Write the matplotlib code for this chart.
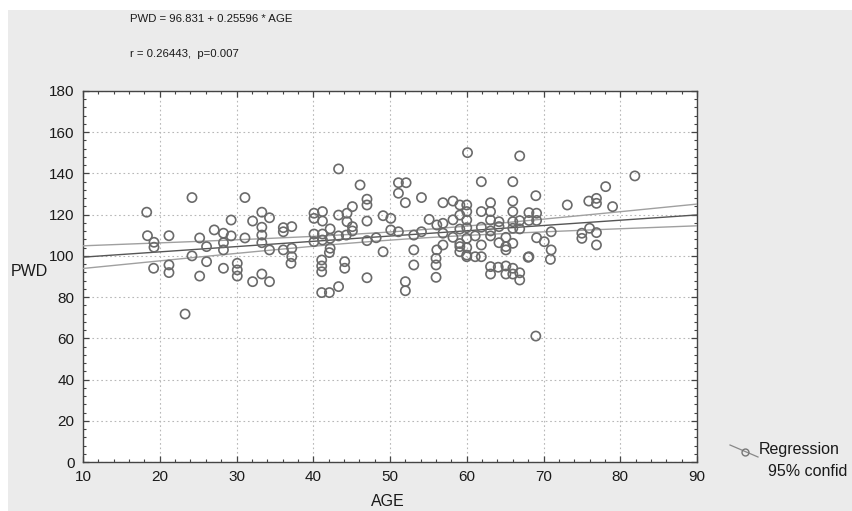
import numpy as np
import matplotlib
matplotlib.use("Agg")
import matplotlib.pyplot as plt
from matplotlib.ticker import MultipleLocator
from matplotlib.patches import Rectangle
from matplotlib.lines import Line2D

plt.rcParams['font.family'] = ['Liberation Sans', 'DejaVu Sans']

# ---- data ----
age = [
    18.3, 24.2, 31.1, 18.4, 19.25, 19.25, 21.2, 24.2, 25.2, 26.1, 27.1, 28.3, 28.3, 28.3,
    29.3, 29.3, 31.1, 32.1, 33.3, 34.3, 33.3, 33.3, 33.3, 34.3, 36.1, 36.1, 37.2, 36.1,
    37.2, 37.2, 19.2, 21.2, 21.2, 25.2, 26.1, 28.3, 30.1, 30.1, 30.1, 32.1, 33.3, 34.3,
    23.3, 37.1,
    43.3, 46.1, 51.1, 52.1, 51.1, 52.0, 54.1, 47.0, 47.0, 45.1, 44.4, 43.3, 40.1, 40.1,
    41.2, 41.2, 42.2, 44.4, 45.1, 45.1, 47.0, 49.1, 50.1, 50.1, 40.1, 40.1, 41.2, 41.2,
    42.2, 42.2, 43.3, 44.3, 47.0, 48.2, 49.1, 51.1, 53.1, 54.1, 55.1, 56.1, 56.9, 56.9,
    56.9, 58.2, 59.1, 59.1, 60.1, 53.1, 56.1, 56.9, 41.1, 41.1, 41.1, 41.1, 42.1, 43.3,
    44.1, 44.1, 47.0, 52.0, 52.0, 53.1, 56.0, 56.0, 56.0, 59.1, 60.0, 42.1,
    58.2, 59.1, 58.2, 59.1, 59.1,
    66.9, 61.9, 66.0, 81.9, 78.1, 69.0, 76.9, 76.9, 75.9, 73.1, 79.0, 63.1, 63.1, 66.0,
    66.0, 61.9, 60.0, 60.0, 60.0, 68.1, 69.1, 68.1, 69.1, 63.1, 64.2, 64.2, 66.0, 66.0,
    66.9, 66.9, 61.9, 61.1, 63.1, 63.1, 64.2, 65.1, 65.1, 66.0, 71.0, 69.1, 70.1, 71.0,
    76.0, 75.0, 75.0, 76.9, 76.9, 60.0, 60.0, 61.9, 68.1, 61.1, 61.9, 60.0, 63.1, 63.1,
    64.1, 65.1, 65.1, 66.0, 66.0, 66.9, 66.9, 68.0, 70.9, 69.0, 65.1, 60.0,
]
pwd = [
    121.2, 128.3, 128.3, 109.8, 106.6, 104.2, 109.8, 100.0, 108.7, 104.5, 112.6, 111.0, 106.4, 102.9,
    117.4, 109.7, 108.7, 116.9, 121.2, 118.5, 113.9, 110.1, 106.4, 102.9, 113.7, 111.7, 114.2, 102.9,
    103.7, 99.6, 94.0, 95.6, 91.9, 90.2, 97.2, 94.0, 96.4, 93.2, 90.2, 87.5, 91.2, 87.5,
    71.8, 96.4,
    142.2, 134.4, 135.5, 135.5, 130.4, 125.8, 128.3, 127.5, 124.7, 123.9, 120.7, 119.8, 120.7, 118.2,
    121.5, 116.9, 113.1, 116.6, 114.2, 112.1, 116.9, 119.5, 118.2, 112.6, 110.6, 106.9, 110.6, 107.7,
    108.5, 103.7, 109.7, 110.1, 107.4, 108.8, 102.0, 111.7, 110.1, 111.7, 117.7, 115.0, 115.8, 111.0,
    125.8, 126.6, 124.7, 119.8, 150.1, 102.9, 102.9, 105.3, 98.0, 95.1, 92.3, 82.2, 82.2, 85.1,
    97.2, 94.0, 89.4, 87.5, 83.1, 95.6, 98.8, 95.6, 89.6, 102.0, 100.4, 101.6,
    117.5, 113.0, 109.0, 106.0, 104.5,
    148.5, 136.0, 136.0, 138.8, 133.6, 129.2, 127.9, 125.5, 126.6, 124.7, 123.9, 125.8, 121.5, 126.6,
    121.5, 121.5, 124.7, 121.5, 117.4, 121.0, 120.7, 117.2, 117.2, 117.4, 116.6, 114.2, 116.6, 113.4,
    117.1, 113.1, 113.9, 109.7, 112.1, 109.7, 106.4, 109.0, 104.5, 106.1, 111.7, 108.8, 106.9, 102.9,
    113.4, 111.0, 108.5, 111.3, 105.3, 113.7, 108.5, 105.3, 99.6, 99.6, 99.6, 99.6, 94.8, 91.2,
    94.5, 95.1, 91.2, 94.0, 91.2, 91.8, 88.3, 99.3, 98.3, 61.1, 102.9, 104.0,
]
intercept = 96.831
slope = 0.25596
r_value = 0.26443
p_value = 0.007
x_ticks = [10, 20, 30, 40, 50, 60, 70, 80, 90]
y_ticks = [0, 20, 40, 60, 80, 100, 120, 140, 160, 180]

x = np.array(age)
y = np.array(pwd)

W, H = 852, 511
fig = plt.figure(figsize=(W / 100, H / 100), dpi=100, facecolor='white')
fig.patches.append(Rectangle((8 / W, 0), 1 - 8 / W, (H - 10) / H,
                             transform=fig.transFigure, facecolor='#ebebeb',
                             edgecolor='none', zorder=-10))

ax = fig.add_axes([83 / W, (H - 462) / H, 614 / W, 371 / H])
ax.set_facecolor('white')

# regression line and 95% confidence band
xs = np.linspace(10, 90, 200)
yhat = intercept + slope * xs
n = len(x)
resid = y - (intercept + slope * x)
s = np.sqrt(np.sum(resid ** 2) / (n - 2))
xbar = x.mean()
sxx = np.sum((x - xbar) ** 2)
half = 1.97 * s * np.sqrt(1 / n + (xs - xbar) ** 2 / sxx)
ax.plot(xs, yhat, color='#555555', lw=1.0, zorder=3)
ax.plot(xs, yhat + half, color='#a0a0a0', lw=1.0, zorder=3)
ax.plot(xs, yhat - half, color='#a0a0a0', lw=1.0, zorder=3)

ax.scatter(x, y, s=44, facecolors='none', edgecolors='#6a6a6a', linewidths=1.2, zorder=4)

ax.set_xlim(10, 90)
ax.set_ylim(0, 180)
ax.set_xticks(x_ticks)
ax.set_yticks(y_ticks)
ax.xaxis.set_minor_locator(MultipleLocator(2))
ax.yaxis.set_minor_locator(MultipleLocator(4))
ax.grid(True, which='major', linestyle=(0, (1.5, 2.5)), color='#b8b8b8', lw=0.8)
ax.set_axisbelow(True)
ax.tick_params(which='both', direction='in', top=True, right=True, color='#444444')
ax.tick_params(which='major', length=4, width=0.9, labelsize=11, pad=6, labelcolor='#1a1a1a')
ax.tick_params(which='minor', length=2.5, width=0.8)
for sp in ax.spines.values():
    sp.set_color('#444444')
    sp.set_linewidth(1.0)

fig.text(388 / W, 1 - 501 / H, 'AGE', ha='center', va='center', fontsize=11.5, color='#1a1a1a')
fig.text(11 / W, 1 - 272 / H, 'PWD', ha='left', va='center', fontsize=11.5, color='#1a1a1a')

fig.text(130 / W, 1 - 19 / H,
         f'PWD = {intercept:.3f} + {slope:.5f} * AGE',
         ha='left', va='center', fontsize=8.2, color='#1a1a1a')
fig.text(130 / W, 1 - 54 / H,
         f'r = {r_value:.5f},  p={p_value:.3f}',
         ha='left', va='center', fontsize=8.2, color='#1a1a1a')

# legend drawn in figure space
fig.lines.append(Line2D([730 / W, 758 / W], [1 - 445 / H, 1 - 457 / H],
                        transform=fig.transFigure, color='#888888', lw=0.9))
fig.lines.append(Line2D([745 / W], [1 - 452 / H], transform=fig.transFigure,
                        marker='o', markersize=5, markerfacecolor='none',
                        markeredgecolor='#777777', lw=0))
fig.text(759 / W, 1 - 449 / H, 'Regression', ha='left', va='center', fontsize=11.5, color='#1a1a1a')
fig.text(768 / W, 1 - 472 / H, '95% confid', ha='left', va='center', fontsize=11.5, color='#1a1a1a')

fig.savefig('out.png', dpi=100, facecolor=fig.get_facecolor())
